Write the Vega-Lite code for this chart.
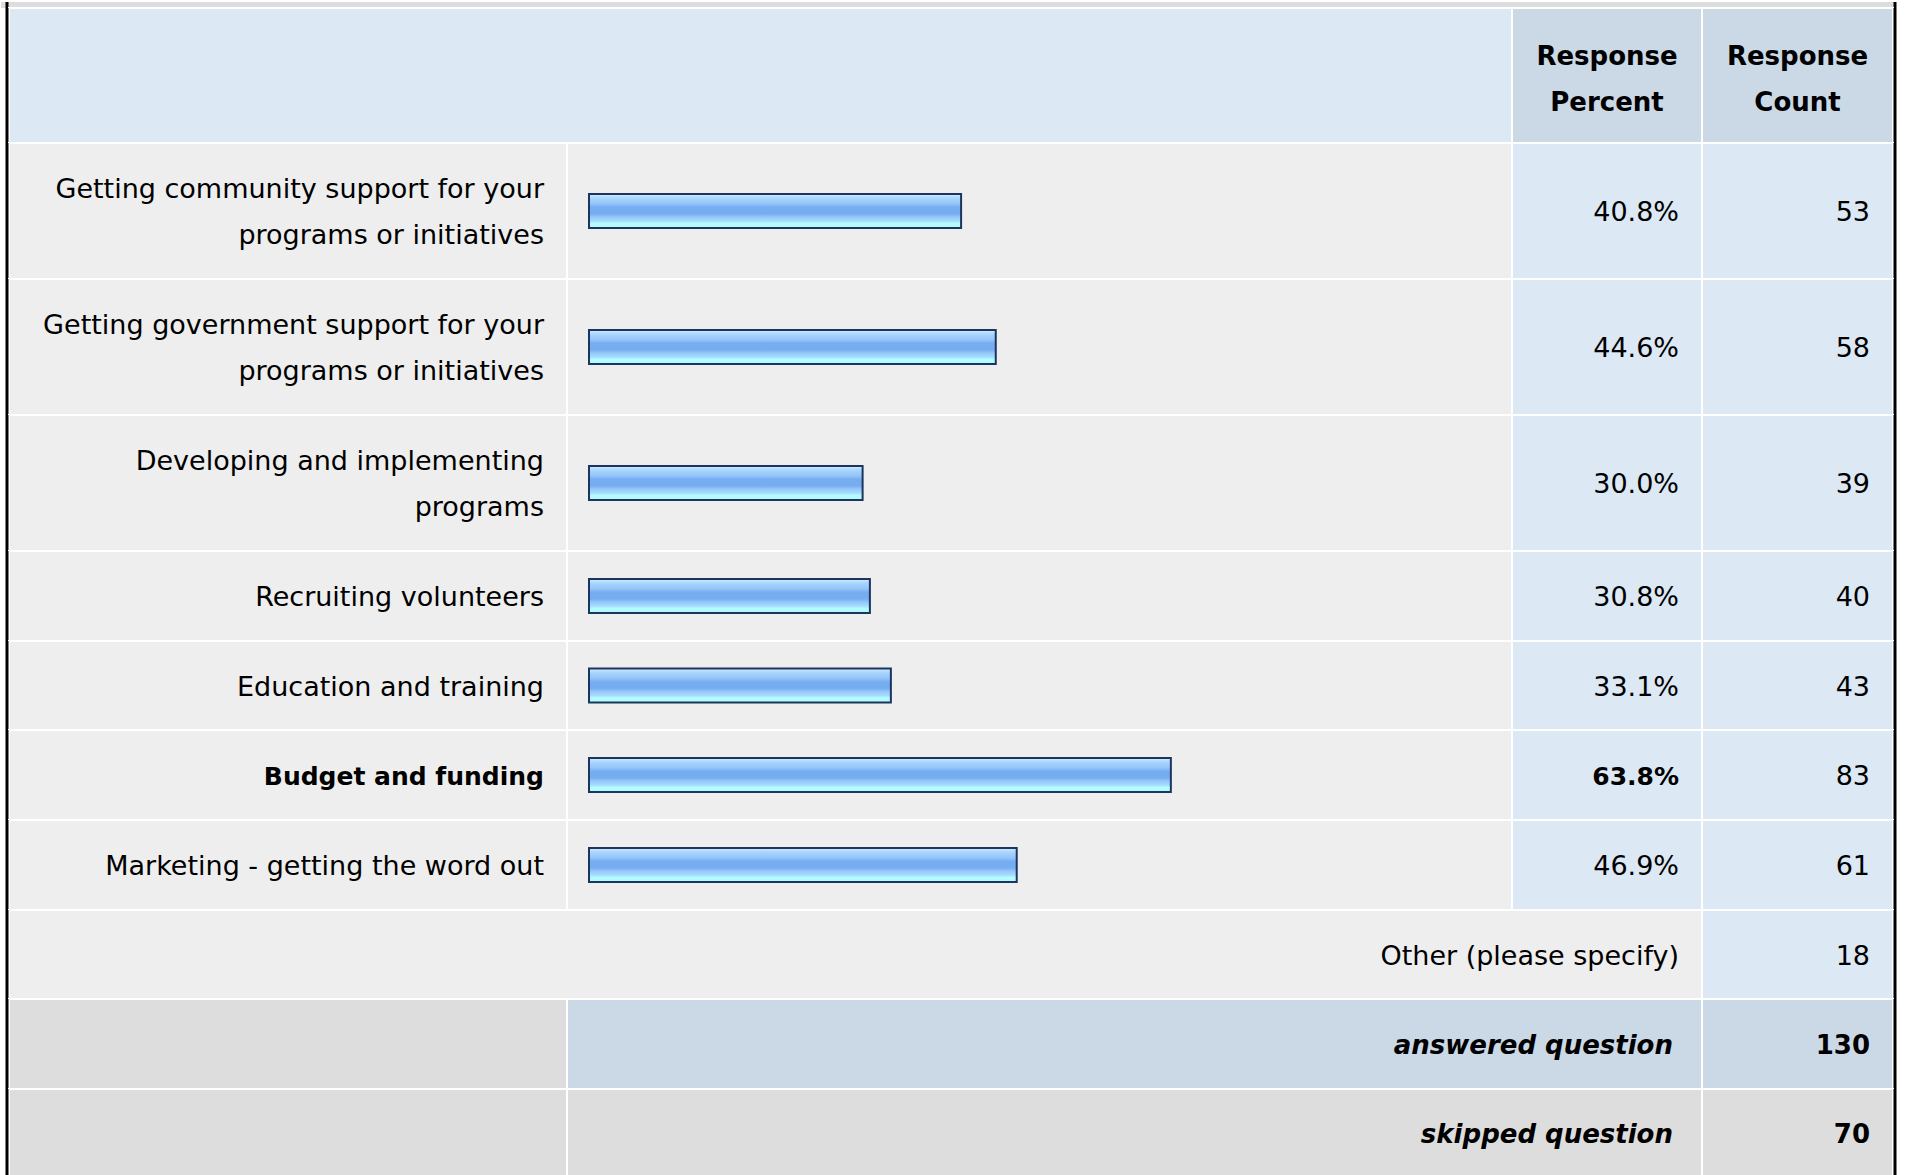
{
  "$schema": "https://vega.github.io/schema/vega-lite/v6.json",
  "background": "#ffffff",
  "padding": 0,
  "spacing": 0,
  "bounds": "flush",
  "config": {"view": {"stroke": null}, "concat": {"spacing": 0}, "text": {"font": "DejaVu Sans", "color": "#000000"}},
  "datasets": {
    "header": [{"percentTitle": "Response\nPercent", "countTitle": "Response\nCount"}],
    "answers": [
      {"option": "Getting community support for your\nprograms or initiatives", "percent": 0.408, "count": 53},
      {"option": "Getting government support for your\nprograms or initiatives", "percent": 0.446, "count": 58},
      {"option": "Developing and implementing\nprograms", "percent": 0.300, "count": 39},
      {"option": "Recruiting volunteers", "percent": 0.308, "count": 40},
      {"option": "Education and training", "percent": 0.331, "count": 43},
      {"option": "Budget and funding", "percent": 0.638, "count": 83},
      {"option": "Marketing - getting the word out", "percent": 0.469, "count": 61}
    ],
    "other": [{"option": "Other (please specify)", "count": 18}],
    "summary": [{"label": "answered question", "count": 130}, {"label": "skipped question", "count": 70}]
  },
  "vconcat": [
    {"height": 6, "width": 1907, "data": {"name": "header"}, "layer": [
      {"mark": {"type": "rect", "fill": "#dddddd"}, "encoding": {"x": {"datum": -0.644737, "type": "quantitative", "scale": {"domain": [0, 1], "range": [588, 1500], "nice": false}}, "x2": {"datum": 1.432018}}},
      {"mark": {"type": "rule", "color": "#000000", "strokeWidth": 3}, "encoding": {"x": {"datum": -0.638158, "type": "quantitative", "scale": {"domain": [0, 1], "range": [588, 1500], "nice": false}}}},
      {"mark": {"type": "rule", "color": "#000000", "strokeWidth": 3}, "encoding": {"x": {"datum": 1.432018, "type": "quantitative", "scale": {"domain": [0, 1], "range": [588, 1500], "nice": false}}}}
    ]},
    {"height": 135, "width": 1907, "data": {"name": "header"}, "layer": [
      {"mark": {"type": "rect", "fill": "#dde8f5", "stroke": "#ffffff", "strokeWidth": 2}, "encoding": {"x": {"datum": -0.63596, "type": "quantitative", "scale": {"domain": [0, 1], "range": [588, 1500], "nice": false}}, "x2": {"datum": 1.012061}}},
      {"mark": {"type": "rect", "fill": "#cbd8e6", "stroke": "#ffffff", "strokeWidth": 2}, "encoding": {"x": {"datum": 1.012061, "type": "quantitative", "scale": {"domain": [0, 1], "range": [588, 1500], "nice": false}}, "x2": {"datum": 1.220395}}},
      {"mark": {"type": "rect", "fill": "#cbd8e6", "stroke": "#ffffff", "strokeWidth": 2}, "encoding": {"x": {"datum": 1.220395, "type": "quantitative", "scale": {"domain": [0, 1], "range": [588, 1500], "nice": false}}, "x2": {"datum": 1.429825}}},
      {"mark": {"type": "rule", "color": "#000000", "strokeWidth": 3}, "encoding": {"x": {"datum": -0.638158, "type": "quantitative", "scale": {"domain": [0, 1], "range": [588, 1500], "nice": false}}}},
      {"mark": {"type": "rule", "color": "#000000", "strokeWidth": 3}, "encoding": {"x": {"datum": 1.432018, "type": "quantitative", "scale": {"domain": [0, 1], "range": [588, 1500], "nice": false}}}},
      {"mark": {"type": "text", "align": "center", "baseline": "middle", "fontSize": 26, "fontWeight": "bold", "lineBreak": "\n", "lineHeight": 46, "dy": -19}, "encoding": {"x": {"datum": 1.116228, "type": "quantitative", "scale": {"domain": [0, 1], "range": [588, 1500], "nice": false}}, "text": {"field": "percentTitle"}}},
      {"mark": {"type": "text", "align": "center", "baseline": "middle", "fontSize": 26, "fontWeight": "bold", "lineBreak": "\n", "lineHeight": 46, "dy": -19}, "encoding": {"x": {"datum": 1.32511, "type": "quantitative", "scale": {"domain": [0, 1], "range": [588, 1500], "nice": false}}, "text": {"field": "countTitle"}}}
    ]},
    {"height": 136, "width": 1907, "data": {"name": "answers"}, "transform": [{"filter": {"field": "option", "equal": "Getting community support for your\nprograms or initiatives"}}], "layer": [
      {"mark": {"type": "rect", "fill": "#eeeeee", "stroke": "#ffffff", "strokeWidth": 2}, "encoding": {"x": {"datum": -0.63596, "type": "quantitative", "scale": {"domain": [0, 1], "range": [588, 1500], "nice": false}}, "x2": {"datum": -0.024123}}},
      {"mark": {"type": "rect", "fill": "#eeeeee", "stroke": "#ffffff", "strokeWidth": 2}, "encoding": {"x": {"datum": -0.024123, "type": "quantitative", "scale": {"domain": [0, 1], "range": [588, 1500], "nice": false}}, "x2": {"datum": 1.012061}}},
      {"mark": {"type": "rect", "fill": "#dde8f5", "stroke": "#ffffff", "strokeWidth": 2}, "encoding": {"x": {"datum": 1.012061, "type": "quantitative", "scale": {"domain": [0, 1], "range": [588, 1500], "nice": false}}, "x2": {"datum": 1.220395}}},
      {"mark": {"type": "rect", "fill": "#dde8f5", "stroke": "#ffffff", "strokeWidth": 2}, "encoding": {"x": {"datum": 1.220395, "type": "quantitative", "scale": {"domain": [0, 1], "range": [588, 1500], "nice": false}}, "x2": {"datum": 1.429825}}},
      {"mark": {"type": "rule", "color": "#000000", "strokeWidth": 3}, "encoding": {"x": {"datum": -0.638158, "type": "quantitative", "scale": {"domain": [0, 1], "range": [588, 1500], "nice": false}}}},
      {"mark": {"type": "rule", "color": "#000000", "strokeWidth": 3}, "encoding": {"x": {"datum": 1.432018, "type": "quantitative", "scale": {"domain": [0, 1], "range": [588, 1500], "nice": false}}}},
      {"mark": {"type": "bar", "height": 34, "stroke": "#1c355e", "strokeWidth": 2, "fill": {"gradient": "linear", "x1": 0, "y1": 0, "x2": 0, "y2": 1, "stops": [{"offset": 0, "color": "#d2ecff"}, {"offset": 0.12, "color": "#a9d5fd"}, {"offset": 0.28, "color": "#94c6fa"}, {"offset": 0.4, "color": "#76acf0"}, {"offset": 0.58, "color": "#76acf0"}, {"offset": 0.68, "color": "#94c8fa"}, {"offset": 0.8, "color": "#a8dcfe"}, {"offset": 0.86, "color": "#b2fcff"}, {"offset": 1, "color": "#b2fcff"}]}}, "encoding": {"x": {"field": "percent", "type": "quantitative", "scale": {"domain": [0, 1], "range": [588, 1500], "nice": false}}}},
      {"mark": {"type": "text", "align": "right", "baseline": "middle", "fontSize": 27, "lineBreak": "\n", "lineHeight": 46, "dy": -21}, "encoding": {"x": {"datum": -0.049342, "type": "quantitative", "scale": {"domain": [0, 1], "range": [588, 1500], "nice": false}}, "text": {"field": "option"}}},
      {"mark": {"type": "text", "align": "right", "baseline": "middle", "fontSize": 27, "dy": 2}, "encoding": {"x": {"datum": 1.195175, "type": "quantitative", "scale": {"domain": [0, 1], "range": [588, 1500], "nice": false}}, "text": {"field": "percent", "type": "quantitative", "format": ".1%"}}},
      {"mark": {"type": "text", "align": "right", "baseline": "middle", "fontSize": 27, "dy": 2}, "encoding": {"x": {"datum": 1.404605, "type": "quantitative", "scale": {"domain": [0, 1], "range": [588, 1500], "nice": false}}, "text": {"field": "count", "type": "quantitative"}}}
    ]},
    {"height": 136, "width": 1907, "data": {"name": "answers"}, "transform": [{"filter": {"field": "option", "equal": "Getting government support for your\nprograms or initiatives"}}], "layer": [
      {"mark": {"type": "rect", "fill": "#eeeeee", "stroke": "#ffffff", "strokeWidth": 2}, "encoding": {"x": {"datum": -0.63596, "type": "quantitative", "scale": {"domain": [0, 1], "range": [588, 1500], "nice": false}}, "x2": {"datum": -0.024123}}},
      {"mark": {"type": "rect", "fill": "#eeeeee", "stroke": "#ffffff", "strokeWidth": 2}, "encoding": {"x": {"datum": -0.024123, "type": "quantitative", "scale": {"domain": [0, 1], "range": [588, 1500], "nice": false}}, "x2": {"datum": 1.012061}}},
      {"mark": {"type": "rect", "fill": "#dde8f5", "stroke": "#ffffff", "strokeWidth": 2}, "encoding": {"x": {"datum": 1.012061, "type": "quantitative", "scale": {"domain": [0, 1], "range": [588, 1500], "nice": false}}, "x2": {"datum": 1.220395}}},
      {"mark": {"type": "rect", "fill": "#dde8f5", "stroke": "#ffffff", "strokeWidth": 2}, "encoding": {"x": {"datum": 1.220395, "type": "quantitative", "scale": {"domain": [0, 1], "range": [588, 1500], "nice": false}}, "x2": {"datum": 1.429825}}},
      {"mark": {"type": "rule", "color": "#000000", "strokeWidth": 3}, "encoding": {"x": {"datum": -0.638158, "type": "quantitative", "scale": {"domain": [0, 1], "range": [588, 1500], "nice": false}}}},
      {"mark": {"type": "rule", "color": "#000000", "strokeWidth": 3}, "encoding": {"x": {"datum": 1.432018, "type": "quantitative", "scale": {"domain": [0, 1], "range": [588, 1500], "nice": false}}}},
      {"mark": {"type": "bar", "height": 34, "stroke": "#1c355e", "strokeWidth": 2, "fill": {"gradient": "linear", "x1": 0, "y1": 0, "x2": 0, "y2": 1, "stops": [{"offset": 0, "color": "#d2ecff"}, {"offset": 0.12, "color": "#a9d5fd"}, {"offset": 0.28, "color": "#94c6fa"}, {"offset": 0.4, "color": "#76acf0"}, {"offset": 0.58, "color": "#76acf0"}, {"offset": 0.68, "color": "#94c8fa"}, {"offset": 0.8, "color": "#a8dcfe"}, {"offset": 0.86, "color": "#b2fcff"}, {"offset": 1, "color": "#b2fcff"}]}}, "encoding": {"x": {"field": "percent", "type": "quantitative", "scale": {"domain": [0, 1], "range": [588, 1500], "nice": false}}}},
      {"mark": {"type": "text", "align": "right", "baseline": "middle", "fontSize": 27, "lineBreak": "\n", "lineHeight": 46, "dy": -21}, "encoding": {"x": {"datum": -0.049342, "type": "quantitative", "scale": {"domain": [0, 1], "range": [588, 1500], "nice": false}}, "text": {"field": "option"}}},
      {"mark": {"type": "text", "align": "right", "baseline": "middle", "fontSize": 27, "dy": 2}, "encoding": {"x": {"datum": 1.195175, "type": "quantitative", "scale": {"domain": [0, 1], "range": [588, 1500], "nice": false}}, "text": {"field": "percent", "type": "quantitative", "format": ".1%"}}},
      {"mark": {"type": "text", "align": "right", "baseline": "middle", "fontSize": 27, "dy": 2}, "encoding": {"x": {"datum": 1.404605, "type": "quantitative", "scale": {"domain": [0, 1], "range": [588, 1500], "nice": false}}, "text": {"field": "count", "type": "quantitative"}}}
    ]},
    {"height": 136, "width": 1907, "data": {"name": "answers"}, "transform": [{"filter": {"field": "option", "equal": "Developing and implementing\nprograms"}}], "layer": [
      {"mark": {"type": "rect", "fill": "#eeeeee", "stroke": "#ffffff", "strokeWidth": 2}, "encoding": {"x": {"datum": -0.63596, "type": "quantitative", "scale": {"domain": [0, 1], "range": [588, 1500], "nice": false}}, "x2": {"datum": -0.024123}}},
      {"mark": {"type": "rect", "fill": "#eeeeee", "stroke": "#ffffff", "strokeWidth": 2}, "encoding": {"x": {"datum": -0.024123, "type": "quantitative", "scale": {"domain": [0, 1], "range": [588, 1500], "nice": false}}, "x2": {"datum": 1.012061}}},
      {"mark": {"type": "rect", "fill": "#dde8f5", "stroke": "#ffffff", "strokeWidth": 2}, "encoding": {"x": {"datum": 1.012061, "type": "quantitative", "scale": {"domain": [0, 1], "range": [588, 1500], "nice": false}}, "x2": {"datum": 1.220395}}},
      {"mark": {"type": "rect", "fill": "#dde8f5", "stroke": "#ffffff", "strokeWidth": 2}, "encoding": {"x": {"datum": 1.220395, "type": "quantitative", "scale": {"domain": [0, 1], "range": [588, 1500], "nice": false}}, "x2": {"datum": 1.429825}}},
      {"mark": {"type": "rule", "color": "#000000", "strokeWidth": 3}, "encoding": {"x": {"datum": -0.638158, "type": "quantitative", "scale": {"domain": [0, 1], "range": [588, 1500], "nice": false}}}},
      {"mark": {"type": "rule", "color": "#000000", "strokeWidth": 3}, "encoding": {"x": {"datum": 1.432018, "type": "quantitative", "scale": {"domain": [0, 1], "range": [588, 1500], "nice": false}}}},
      {"mark": {"type": "bar", "height": 34, "stroke": "#1c355e", "strokeWidth": 2, "fill": {"gradient": "linear", "x1": 0, "y1": 0, "x2": 0, "y2": 1, "stops": [{"offset": 0, "color": "#d2ecff"}, {"offset": 0.12, "color": "#a9d5fd"}, {"offset": 0.28, "color": "#94c6fa"}, {"offset": 0.4, "color": "#76acf0"}, {"offset": 0.58, "color": "#76acf0"}, {"offset": 0.68, "color": "#94c8fa"}, {"offset": 0.8, "color": "#a8dcfe"}, {"offset": 0.86, "color": "#b2fcff"}, {"offset": 1, "color": "#b2fcff"}]}}, "encoding": {"x": {"field": "percent", "type": "quantitative", "scale": {"domain": [0, 1], "range": [588, 1500], "nice": false}}}},
      {"mark": {"type": "text", "align": "right", "baseline": "middle", "fontSize": 27, "lineBreak": "\n", "lineHeight": 46, "dy": -21}, "encoding": {"x": {"datum": -0.049342, "type": "quantitative", "scale": {"domain": [0, 1], "range": [588, 1500], "nice": false}}, "text": {"field": "option"}}},
      {"mark": {"type": "text", "align": "right", "baseline": "middle", "fontSize": 27, "dy": 2}, "encoding": {"x": {"datum": 1.195175, "type": "quantitative", "scale": {"domain": [0, 1], "range": [588, 1500], "nice": false}}, "text": {"field": "percent", "type": "quantitative", "format": ".1%"}}},
      {"mark": {"type": "text", "align": "right", "baseline": "middle", "fontSize": 27, "dy": 2}, "encoding": {"x": {"datum": 1.404605, "type": "quantitative", "scale": {"domain": [0, 1], "range": [588, 1500], "nice": false}}, "text": {"field": "count", "type": "quantitative"}}}
    ]},
    {"height": 90, "width": 1907, "data": {"name": "answers"}, "transform": [{"filter": {"field": "option", "equal": "Recruiting volunteers"}}], "layer": [
      {"mark": {"type": "rect", "fill": "#eeeeee", "stroke": "#ffffff", "strokeWidth": 2}, "encoding": {"x": {"datum": -0.63596, "type": "quantitative", "scale": {"domain": [0, 1], "range": [588, 1500], "nice": false}}, "x2": {"datum": -0.024123}}},
      {"mark": {"type": "rect", "fill": "#eeeeee", "stroke": "#ffffff", "strokeWidth": 2}, "encoding": {"x": {"datum": -0.024123, "type": "quantitative", "scale": {"domain": [0, 1], "range": [588, 1500], "nice": false}}, "x2": {"datum": 1.012061}}},
      {"mark": {"type": "rect", "fill": "#dde8f5", "stroke": "#ffffff", "strokeWidth": 2}, "encoding": {"x": {"datum": 1.012061, "type": "quantitative", "scale": {"domain": [0, 1], "range": [588, 1500], "nice": false}}, "x2": {"datum": 1.220395}}},
      {"mark": {"type": "rect", "fill": "#dde8f5", "stroke": "#ffffff", "strokeWidth": 2}, "encoding": {"x": {"datum": 1.220395, "type": "quantitative", "scale": {"domain": [0, 1], "range": [588, 1500], "nice": false}}, "x2": {"datum": 1.429825}}},
      {"mark": {"type": "rule", "color": "#000000", "strokeWidth": 3}, "encoding": {"x": {"datum": -0.638158, "type": "quantitative", "scale": {"domain": [0, 1], "range": [588, 1500], "nice": false}}}},
      {"mark": {"type": "rule", "color": "#000000", "strokeWidth": 3}, "encoding": {"x": {"datum": 1.432018, "type": "quantitative", "scale": {"domain": [0, 1], "range": [588, 1500], "nice": false}}}},
      {"mark": {"type": "bar", "height": 34, "stroke": "#1c355e", "strokeWidth": 2, "fill": {"gradient": "linear", "x1": 0, "y1": 0, "x2": 0, "y2": 1, "stops": [{"offset": 0, "color": "#d2ecff"}, {"offset": 0.12, "color": "#a9d5fd"}, {"offset": 0.28, "color": "#94c6fa"}, {"offset": 0.4, "color": "#76acf0"}, {"offset": 0.58, "color": "#76acf0"}, {"offset": 0.68, "color": "#94c8fa"}, {"offset": 0.8, "color": "#a8dcfe"}, {"offset": 0.86, "color": "#b2fcff"}, {"offset": 1, "color": "#b2fcff"}]}}, "encoding": {"x": {"field": "percent", "type": "quantitative", "scale": {"domain": [0, 1], "range": [588, 1500], "nice": false}}}},
      {"mark": {"type": "text", "align": "right", "baseline": "middle", "fontSize": 27, "dy": 2}, "encoding": {"x": {"datum": -0.049342, "type": "quantitative", "scale": {"domain": [0, 1], "range": [588, 1500], "nice": false}}, "text": {"field": "option"}}},
      {"mark": {"type": "text", "align": "right", "baseline": "middle", "fontSize": 27, "dy": 2}, "encoding": {"x": {"datum": 1.195175, "type": "quantitative", "scale": {"domain": [0, 1], "range": [588, 1500], "nice": false}}, "text": {"field": "percent", "type": "quantitative", "format": ".1%"}}},
      {"mark": {"type": "text", "align": "right", "baseline": "middle", "fontSize": 27, "dy": 2}, "encoding": {"x": {"datum": 1.404605, "type": "quantitative", "scale": {"domain": [0, 1], "range": [588, 1500], "nice": false}}, "text": {"field": "count", "type": "quantitative"}}}
    ]},
    {"height": 89, "width": 1907, "data": {"name": "answers"}, "transform": [{"filter": {"field": "option", "equal": "Education and training"}}], "layer": [
      {"mark": {"type": "rect", "fill": "#eeeeee", "stroke": "#ffffff", "strokeWidth": 2}, "encoding": {"x": {"datum": -0.63596, "type": "quantitative", "scale": {"domain": [0, 1], "range": [588, 1500], "nice": false}}, "x2": {"datum": -0.024123}}},
      {"mark": {"type": "rect", "fill": "#eeeeee", "stroke": "#ffffff", "strokeWidth": 2}, "encoding": {"x": {"datum": -0.024123, "type": "quantitative", "scale": {"domain": [0, 1], "range": [588, 1500], "nice": false}}, "x2": {"datum": 1.012061}}},
      {"mark": {"type": "rect", "fill": "#dde8f5", "stroke": "#ffffff", "strokeWidth": 2}, "encoding": {"x": {"datum": 1.012061, "type": "quantitative", "scale": {"domain": [0, 1], "range": [588, 1500], "nice": false}}, "x2": {"datum": 1.220395}}},
      {"mark": {"type": "rect", "fill": "#dde8f5", "stroke": "#ffffff", "strokeWidth": 2}, "encoding": {"x": {"datum": 1.220395, "type": "quantitative", "scale": {"domain": [0, 1], "range": [588, 1500], "nice": false}}, "x2": {"datum": 1.429825}}},
      {"mark": {"type": "rule", "color": "#000000", "strokeWidth": 3}, "encoding": {"x": {"datum": -0.638158, "type": "quantitative", "scale": {"domain": [0, 1], "range": [588, 1500], "nice": false}}}},
      {"mark": {"type": "rule", "color": "#000000", "strokeWidth": 3}, "encoding": {"x": {"datum": 1.432018, "type": "quantitative", "scale": {"domain": [0, 1], "range": [588, 1500], "nice": false}}}},
      {"mark": {"type": "bar", "height": 34, "stroke": "#1c355e", "strokeWidth": 2, "fill": {"gradient": "linear", "x1": 0, "y1": 0, "x2": 0, "y2": 1, "stops": [{"offset": 0, "color": "#d2ecff"}, {"offset": 0.12, "color": "#a9d5fd"}, {"offset": 0.28, "color": "#94c6fa"}, {"offset": 0.4, "color": "#76acf0"}, {"offset": 0.58, "color": "#76acf0"}, {"offset": 0.68, "color": "#94c8fa"}, {"offset": 0.8, "color": "#a8dcfe"}, {"offset": 0.86, "color": "#b2fcff"}, {"offset": 1, "color": "#b2fcff"}]}}, "encoding": {"x": {"field": "percent", "type": "quantitative", "scale": {"domain": [0, 1], "range": [588, 1500], "nice": false}}}},
      {"mark": {"type": "text", "align": "right", "baseline": "middle", "fontSize": 27, "dy": 2}, "encoding": {"x": {"datum": -0.049342, "type": "quantitative", "scale": {"domain": [0, 1], "range": [588, 1500], "nice": false}}, "text": {"field": "option"}}},
      {"mark": {"type": "text", "align": "right", "baseline": "middle", "fontSize": 27, "dy": 2}, "encoding": {"x": {"datum": 1.195175, "type": "quantitative", "scale": {"domain": [0, 1], "range": [588, 1500], "nice": false}}, "text": {"field": "percent", "type": "quantitative", "format": ".1%"}}},
      {"mark": {"type": "text", "align": "right", "baseline": "middle", "fontSize": 27, "dy": 2}, "encoding": {"x": {"datum": 1.404605, "type": "quantitative", "scale": {"domain": [0, 1], "range": [588, 1500], "nice": false}}, "text": {"field": "count", "type": "quantitative"}}}
    ]},
    {"height": 90, "width": 1907, "data": {"name": "answers"}, "transform": [{"filter": {"field": "option", "equal": "Budget and funding"}}], "layer": [
      {"mark": {"type": "rect", "fill": "#eeeeee", "stroke": "#ffffff", "strokeWidth": 2}, "encoding": {"x": {"datum": -0.63596, "type": "quantitative", "scale": {"domain": [0, 1], "range": [588, 1500], "nice": false}}, "x2": {"datum": -0.024123}}},
      {"mark": {"type": "rect", "fill": "#eeeeee", "stroke": "#ffffff", "strokeWidth": 2}, "encoding": {"x": {"datum": -0.024123, "type": "quantitative", "scale": {"domain": [0, 1], "range": [588, 1500], "nice": false}}, "x2": {"datum": 1.012061}}},
      {"mark": {"type": "rect", "fill": "#dde8f5", "stroke": "#ffffff", "strokeWidth": 2}, "encoding": {"x": {"datum": 1.012061, "type": "quantitative", "scale": {"domain": [0, 1], "range": [588, 1500], "nice": false}}, "x2": {"datum": 1.220395}}},
      {"mark": {"type": "rect", "fill": "#dde8f5", "stroke": "#ffffff", "strokeWidth": 2}, "encoding": {"x": {"datum": 1.220395, "type": "quantitative", "scale": {"domain": [0, 1], "range": [588, 1500], "nice": false}}, "x2": {"datum": 1.429825}}},
      {"mark": {"type": "rule", "color": "#000000", "strokeWidth": 3}, "encoding": {"x": {"datum": -0.638158, "type": "quantitative", "scale": {"domain": [0, 1], "range": [588, 1500], "nice": false}}}},
      {"mark": {"type": "rule", "color": "#000000", "strokeWidth": 3}, "encoding": {"x": {"datum": 1.432018, "type": "quantitative", "scale": {"domain": [0, 1], "range": [588, 1500], "nice": false}}}},
      {"mark": {"type": "bar", "height": 34, "stroke": "#1c355e", "strokeWidth": 2, "fill": {"gradient": "linear", "x1": 0, "y1": 0, "x2": 0, "y2": 1, "stops": [{"offset": 0, "color": "#d2ecff"}, {"offset": 0.12, "color": "#a9d5fd"}, {"offset": 0.28, "color": "#94c6fa"}, {"offset": 0.4, "color": "#76acf0"}, {"offset": 0.58, "color": "#76acf0"}, {"offset": 0.68, "color": "#94c8fa"}, {"offset": 0.8, "color": "#a8dcfe"}, {"offset": 0.86, "color": "#b2fcff"}, {"offset": 1, "color": "#b2fcff"}]}}, "encoding": {"x": {"field": "percent", "type": "quantitative", "scale": {"domain": [0, 1], "range": [588, 1500], "nice": false}}}},
      {"mark": {"type": "text", "align": "right", "baseline": "middle", "fontSize": 25, "fontWeight": "bold", "dy": 2}, "encoding": {"x": {"datum": -0.049342, "type": "quantitative", "scale": {"domain": [0, 1], "range": [588, 1500], "nice": false}}, "text": {"field": "option"}}},
      {"mark": {"type": "text", "align": "right", "baseline": "middle", "fontSize": 25, "fontWeight": "bold", "dy": 2}, "encoding": {"x": {"datum": 1.195175, "type": "quantitative", "scale": {"domain": [0, 1], "range": [588, 1500], "nice": false}}, "text": {"field": "percent", "type": "quantitative", "format": ".1%"}}},
      {"mark": {"type": "text", "align": "right", "baseline": "middle", "fontSize": 27, "dy": 2}, "encoding": {"x": {"datum": 1.404605, "type": "quantitative", "scale": {"domain": [0, 1], "range": [588, 1500], "nice": false}}, "text": {"field": "count", "type": "quantitative"}}}
    ]},
    {"height": 90, "width": 1907, "data": {"name": "answers"}, "transform": [{"filter": {"field": "option", "equal": "Marketing - getting the word out"}}], "layer": [
      {"mark": {"type": "rect", "fill": "#eeeeee", "stroke": "#ffffff", "strokeWidth": 2}, "encoding": {"x": {"datum": -0.63596, "type": "quantitative", "scale": {"domain": [0, 1], "range": [588, 1500], "nice": false}}, "x2": {"datum": -0.024123}}},
      {"mark": {"type": "rect", "fill": "#eeeeee", "stroke": "#ffffff", "strokeWidth": 2}, "encoding": {"x": {"datum": -0.024123, "type": "quantitative", "scale": {"domain": [0, 1], "range": [588, 1500], "nice": false}}, "x2": {"datum": 1.012061}}},
      {"mark": {"type": "rect", "fill": "#dde8f5", "stroke": "#ffffff", "strokeWidth": 2}, "encoding": {"x": {"datum": 1.012061, "type": "quantitative", "scale": {"domain": [0, 1], "range": [588, 1500], "nice": false}}, "x2": {"datum": 1.220395}}},
      {"mark": {"type": "rect", "fill": "#dde8f5", "stroke": "#ffffff", "strokeWidth": 2}, "encoding": {"x": {"datum": 1.220395, "type": "quantitative", "scale": {"domain": [0, 1], "range": [588, 1500], "nice": false}}, "x2": {"datum": 1.429825}}},
      {"mark": {"type": "rule", "color": "#000000", "strokeWidth": 3}, "encoding": {"x": {"datum": -0.638158, "type": "quantitative", "scale": {"domain": [0, 1], "range": [588, 1500], "nice": false}}}},
      {"mark": {"type": "rule", "color": "#000000", "strokeWidth": 3}, "encoding": {"x": {"datum": 1.432018, "type": "quantitative", "scale": {"domain": [0, 1], "range": [588, 1500], "nice": false}}}},
      {"mark": {"type": "bar", "height": 34, "stroke": "#1c355e", "strokeWidth": 2, "fill": {"gradient": "linear", "x1": 0, "y1": 0, "x2": 0, "y2": 1, "stops": [{"offset": 0, "color": "#d2ecff"}, {"offset": 0.12, "color": "#a9d5fd"}, {"offset": 0.28, "color": "#94c6fa"}, {"offset": 0.4, "color": "#76acf0"}, {"offset": 0.58, "color": "#76acf0"}, {"offset": 0.68, "color": "#94c8fa"}, {"offset": 0.8, "color": "#a8dcfe"}, {"offset": 0.86, "color": "#b2fcff"}, {"offset": 1, "color": "#b2fcff"}]}}, "encoding": {"x": {"field": "percent", "type": "quantitative", "scale": {"domain": [0, 1], "range": [588, 1500], "nice": false}}}},
      {"mark": {"type": "text", "align": "right", "baseline": "middle", "fontSize": 27, "dy": 2}, "encoding": {"x": {"datum": -0.049342, "type": "quantitative", "scale": {"domain": [0, 1], "range": [588, 1500], "nice": false}}, "text": {"field": "option"}}},
      {"mark": {"type": "text", "align": "right", "baseline": "middle", "fontSize": 27, "dy": 2}, "encoding": {"x": {"datum": 1.195175, "type": "quantitative", "scale": {"domain": [0, 1], "range": [588, 1500], "nice": false}}, "text": {"field": "percent", "type": "quantitative", "format": ".1%"}}},
      {"mark": {"type": "text", "align": "right", "baseline": "middle", "fontSize": 27, "dy": 2}, "encoding": {"x": {"datum": 1.404605, "type": "quantitative", "scale": {"domain": [0, 1], "range": [588, 1500], "nice": false}}, "text": {"field": "count", "type": "quantitative"}}}
    ]},
    {"height": 89, "width": 1907, "data": {"name": "other"}, "layer": [
      {"mark": {"type": "rect", "fill": "#eeeeee", "stroke": "#ffffff", "strokeWidth": 2}, "encoding": {"x": {"datum": -0.63596, "type": "quantitative", "scale": {"domain": [0, 1], "range": [588, 1500], "nice": false}}, "x2": {"datum": 1.220395}}},
      {"mark": {"type": "rect", "fill": "#dde8f5", "stroke": "#ffffff", "strokeWidth": 2}, "encoding": {"x": {"datum": 1.220395, "type": "quantitative", "scale": {"domain": [0, 1], "range": [588, 1500], "nice": false}}, "x2": {"datum": 1.429825}}},
      {"mark": {"type": "rule", "color": "#000000", "strokeWidth": 3}, "encoding": {"x": {"datum": -0.638158, "type": "quantitative", "scale": {"domain": [0, 1], "range": [588, 1500], "nice": false}}}},
      {"mark": {"type": "rule", "color": "#000000", "strokeWidth": 3}, "encoding": {"x": {"datum": 1.432018, "type": "quantitative", "scale": {"domain": [0, 1], "range": [588, 1500], "nice": false}}}},
      {"mark": {"type": "text", "align": "right", "baseline": "middle", "fontSize": 27, "dy": 2}, "encoding": {"x": {"datum": 1.195175, "type": "quantitative", "scale": {"domain": [0, 1], "range": [588, 1500], "nice": false}}, "text": {"field": "option"}}},
      {"mark": {"type": "text", "align": "right", "baseline": "middle", "fontSize": 27, "dy": 2}, "encoding": {"x": {"datum": 1.404605, "type": "quantitative", "scale": {"domain": [0, 1], "range": [588, 1500], "nice": false}}, "text": {"field": "count", "type": "quantitative"}}}
    ]},
    {"height": 90, "width": 1907, "data": {"name": "summary"}, "transform": [{"filter": {"field": "label", "equal": "answered question"}}], "layer": [
      {"mark": {"type": "rect", "fill": "#dddddd", "stroke": "#ffffff", "strokeWidth": 2}, "encoding": {"x": {"datum": -0.63596, "type": "quantitative", "scale": {"domain": [0, 1], "range": [588, 1500], "nice": false}}, "x2": {"datum": -0.024123}}},
      {"mark": {"type": "rect", "fill": "#cbd8e6", "stroke": "#ffffff", "strokeWidth": 2}, "encoding": {"x": {"datum": -0.024123, "type": "quantitative", "scale": {"domain": [0, 1], "range": [588, 1500], "nice": false}}, "x2": {"datum": 1.220395}}},
      {"mark": {"type": "rect", "fill": "#cbd8e6", "stroke": "#ffffff", "strokeWidth": 2}, "encoding": {"x": {"datum": 1.220395, "type": "quantitative", "scale": {"domain": [0, 1], "range": [588, 1500], "nice": false}}, "x2": {"datum": 1.429825}}},
      {"mark": {"type": "rule", "color": "#000000", "strokeWidth": 3}, "encoding": {"x": {"datum": -0.638158, "type": "quantitative", "scale": {"domain": [0, 1], "range": [588, 1500], "nice": false}}}},
      {"mark": {"type": "rule", "color": "#000000", "strokeWidth": 3}, "encoding": {"x": {"datum": 1.432018, "type": "quantitative", "scale": {"domain": [0, 1], "range": [588, 1500], "nice": false}}}},
      {"mark": {"type": "text", "align": "right", "baseline": "middle", "fontSize": 26, "fontWeight": "bold", "fontStyle": "italic", "dy": 2}, "encoding": {"x": {"datum": 1.188596, "type": "quantitative", "scale": {"domain": [0, 1], "range": [588, 1500], "nice": false}}, "text": {"field": "label"}}},
      {"mark": {"type": "text", "align": "right", "baseline": "middle", "fontSize": 26, "fontWeight": "bold", "dy": 2}, "encoding": {"x": {"datum": 1.404605, "type": "quantitative", "scale": {"domain": [0, 1], "range": [588, 1500], "nice": false}}, "text": {"field": "count", "type": "quantitative"}}}
    ]},
    {"height": 87, "width": 1907, "data": {"name": "summary"}, "transform": [{"filter": {"field": "label", "equal": "skipped question"}}], "layer": [
      {"mark": {"type": "rect", "fill": "#dddddd", "stroke": "#ffffff", "strokeWidth": 2}, "encoding": {"x": {"datum": -0.63596, "type": "quantitative", "scale": {"domain": [0, 1], "range": [588, 1500], "nice": false}}, "x2": {"datum": -0.024123}}},
      {"mark": {"type": "rect", "fill": "#dddddd", "stroke": "#ffffff", "strokeWidth": 2}, "encoding": {"x": {"datum": -0.024123, "type": "quantitative", "scale": {"domain": [0, 1], "range": [588, 1500], "nice": false}}, "x2": {"datum": 1.220395}}},
      {"mark": {"type": "rect", "fill": "#dddddd", "stroke": "#ffffff", "strokeWidth": 2}, "encoding": {"x": {"datum": 1.220395, "type": "quantitative", "scale": {"domain": [0, 1], "range": [588, 1500], "nice": false}}, "x2": {"datum": 1.429825}}},
      {"mark": {"type": "rule", "color": "#000000", "strokeWidth": 3}, "encoding": {"x": {"datum": -0.638158, "type": "quantitative", "scale": {"domain": [0, 1], "range": [588, 1500], "nice": false}}}},
      {"mark": {"type": "rule", "color": "#000000", "strokeWidth": 3}, "encoding": {"x": {"datum": 1.432018, "type": "quantitative", "scale": {"domain": [0, 1], "range": [588, 1500], "nice": false}}}},
      {"mark": {"type": "text", "align": "right", "baseline": "middle", "fontSize": 26, "fontWeight": "bold", "fontStyle": "italic", "dy": 2}, "encoding": {"x": {"datum": 1.188596, "type": "quantitative", "scale": {"domain": [0, 1], "range": [588, 1500], "nice": false}}, "text": {"field": "label"}}},
      {"mark": {"type": "text", "align": "right", "baseline": "middle", "fontSize": 26, "fontWeight": "bold", "dy": 2}, "encoding": {"x": {"datum": 1.404605, "type": "quantitative", "scale": {"domain": [0, 1], "range": [588, 1500], "nice": false}}, "text": {"field": "count", "type": "quantitative"}}}
    ]}
  ]
}
